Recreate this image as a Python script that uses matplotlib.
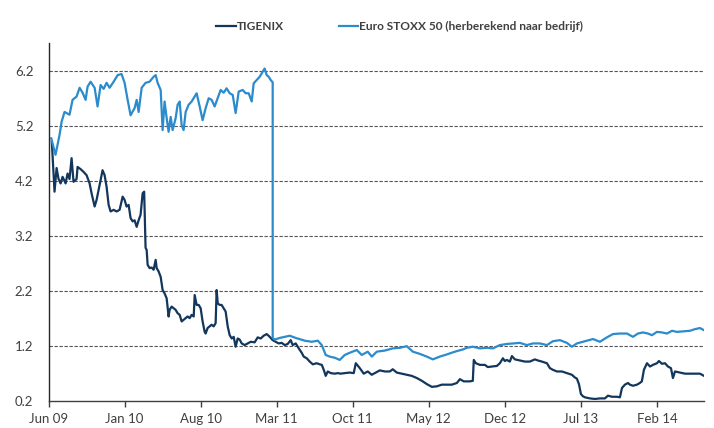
import numpy as np
import matplotlib
matplotlib.use("Agg")
import matplotlib.pyplot as plt

plt.rcParams['font.family'] = ['Lato', 'DejaVu Sans']

# time axis in months since June 2009
tig_months = [0.30, 0.55, 0.74, 0.92, 1.11, 1.29, 1.57, 1.75, 1.93, 2.12, 2.30, 2.58, 2.67, 2.95,
              3.22, 3.50, 3.78, 3.96, 4.24, 4.42, 4.61, 4.79, 4.97, 5.16, 5.34, 5.53, 5.71, 5.99,
              6.26, 6.54, 6.82, 7.00, 7.18, 7.37, 7.55, 7.74, 7.92, 8.11, 8.29, 8.47, 8.66, 8.80,
              8.93, 9.03, 9.12, 9.30, 9.49, 9.67, 9.86, 9.95, 10.13, 10.32, 10.50, 10.68, 10.87,
              11.05, 11.14, 11.33, 11.51, 11.70, 11.88, 12.07, 12.25, 12.43, 12.62, 12.80, 12.99,
              13.17, 13.36, 13.45, 13.63, 13.82, 14.00, 14.18, 14.37, 14.46, 14.64, 14.83, 15.01,
              15.20, 15.38, 15.47, 15.57, 15.75, 15.93, 16.12, 16.30, 16.49, 16.67, 16.86, 17.04,
              17.22, 17.41, 17.59, 17.78, 18.05, 18.33, 18.61, 18.97, 19.25, 19.53, 19.80, 20.08,
              20.36, 20.63, 20.91, 21.18, 21.46, 21.74, 22.01, 22.29, 22.47, 22.75, 23.03, 23.30,
              23.49, 23.76, 24.04, 24.32, 24.68, 24.96, 25.15, 25.33, 25.51, 25.70, 25.97, 26.34,
              26.62, 26.89, 27.26, 27.72, 28.09, 28.28, 28.65, 29.01, 29.38, 29.75, 30.12, 30.49,
              30.95, 31.41, 31.68, 32.05, 32.51, 32.97, 33.43, 33.90, 34.36, 34.82, 35.28, 35.74,
              36.20, 36.66, 37.12, 37.58, 37.86, 38.22, 38.78, 39.05, 39.14, 39.33, 39.70, 40.16,
              40.43, 40.80, 41.26, 41.54, 41.82, 42.00, 42.18, 42.46, 42.65, 42.92, 43.38, 43.84,
              44.30, 44.76, 45.04, 45.41, 45.87, 46.15, 46.42, 46.79, 47.25, 47.71, 48.17, 48.45,
              48.63, 48.82, 49.00, 49.18, 49.37, 49.83, 50.29, 50.75, 51.21, 51.49, 51.86, 52.32,
              52.59, 52.78, 53.05, 53.33, 53.51, 53.79, 54.16, 54.42, 54.61, 54.80, 55.08, 55.36,
              55.63, 56.00, 56.18, 56.46, 56.74, 57.01, 57.29, 57.47, 57.66, 58.12, 58.58, 59.04,
              59.50, 59.96, 60.33]
tig_values = [4.91, 4.00, 4.43, 4.23, 4.15, 4.27, 4.15, 4.33, 4.23, 4.61, 4.18, 4.23, 4.45, 4.41,
              4.36, 4.30, 4.15, 3.97, 3.73, 3.85, 4.03, 4.21, 4.39, 4.30, 4.09, 3.76, 3.64, 3.67,
              3.64, 3.67, 3.91, 3.85, 3.73, 3.76, 3.52, 3.46, 3.48, 3.36, 3.48, 3.58, 3.97, 4.00,
              2.98, 2.94, 2.67, 2.61, 2.62, 2.58, 2.76, 2.61, 2.55, 2.45, 2.21, 2.15, 2.06,
              1.73, 1.85, 1.91, 1.88, 1.85, 1.79, 1.76, 1.64, 1.67, 1.70, 1.73, 1.70,
              1.76, 1.73, 2.12, 1.94, 1.94, 1.88, 1.64, 1.45, 1.42, 1.52, 1.55, 1.58,
              1.55, 1.61, 2.21, 1.97, 1.94, 1.94, 1.88, 1.82, 1.55, 1.39, 1.33, 1.36,
              1.18, 1.33, 1.31, 1.24, 1.21, 1.24, 1.27, 1.26, 1.35, 1.33, 1.38, 1.41,
              1.36, 1.30, 1.27, 1.24, 1.25, 1.21, 1.23, 1.30, 1.21, 1.24, 1.15, 1.07,
              1.00, 0.97, 0.91, 0.86, 0.88, 0.86, 0.85, 0.76, 0.65, 0.73, 0.70, 0.69,
              0.70, 0.69, 0.70, 0.71, 0.70, 0.88, 0.79, 0.69, 0.73, 0.67, 0.71, 0.75,
              0.73, 0.73, 0.77, 0.71, 0.69, 0.67, 0.65, 0.61, 0.56, 0.50, 0.45, 0.46,
              0.49, 0.49, 0.49, 0.52, 0.59, 0.55, 0.55, 0.56, 0.94, 0.88, 0.85, 0.85,
              0.81, 0.82, 0.83, 0.88, 0.97, 0.92, 0.94, 0.91, 1.01, 0.95, 0.93, 0.91,
              0.91, 0.95, 0.93, 0.91, 0.88, 0.79, 0.76, 0.73, 0.73, 0.70, 0.67, 0.62,
              0.60, 0.50, 0.32, 0.28, 0.26, 0.24, 0.23, 0.24, 0.24, 0.29, 0.27, 0.27,
              0.26, 0.43, 0.49, 0.52, 0.49, 0.47, 0.49, 0.52, 0.55, 0.76, 0.88, 0.82,
              0.85, 0.88, 0.92, 0.87, 0.88, 0.82, 0.79, 0.61, 0.73, 0.71, 0.69, 0.69,
              0.69, 0.69, 0.65]

euro_months = [0.25, 0.64, 1.01, 1.20, 1.47, 1.93, 2.21, 2.58, 2.86, 3.13, 3.41, 3.59, 3.87, 4.24,
               4.51, 4.79, 5.07, 5.34, 5.62, 5.99, 6.36, 6.72, 7.00, 7.28, 7.55, 7.92, 8.11, 8.29,
               8.57, 8.93, 9.30, 9.67, 9.86, 10.04, 10.32, 10.50, 10.68, 10.87, 11.05, 11.24,
               11.42, 11.70, 11.88, 12.07, 12.25, 12.43, 12.62, 12.89, 13.17, 13.45, 13.63,
               13.91, 14.18, 14.46, 14.74, 15.01, 15.29, 15.57, 15.84, 16.12, 16.39, 16.67,
               16.95, 17.22, 17.50, 17.87, 18.14, 18.42, 18.70, 18.88, 19.16, 19.43, 19.71,
               19.89, 20.08, 20.26, 20.45, 20.63, 20.63, 20.81, 21.28, 21.74, 22.20, 22.75,
               23.58, 24.22, 24.78, 25.15, 25.51, 25.88, 26.34, 26.80, 27.26, 27.72, 28.37,
               28.83, 29.38, 29.75, 30.21, 30.95, 31.68, 32.33, 32.97, 33.53, 34.17, 34.82,
               35.37, 36.01, 36.66, 37.40, 38.13, 38.50, 39.05, 39.70, 40.34, 40.90, 41.54,
               42.18, 42.74, 43.38, 44.03, 44.58, 45.22, 45.87, 46.42, 47.07, 47.71, 48.17,
               48.63, 49.18, 49.55, 50.11, 50.75, 51.39, 51.95, 52.59, 53.24, 53.79, 54.25,
               54.71, 55.17, 55.54, 56.00, 56.46, 56.92, 57.38, 57.84, 58.40, 59.04, 59.50,
               59.96, 60.33]
euro_values = [4.97, 4.67, 5.03, 5.27, 5.45, 5.40, 5.67, 5.73, 5.89, 5.80, 5.67, 5.91, 6.00, 5.89,
               5.55, 5.94, 5.87, 5.98, 5.89, 6.00, 6.12, 6.14, 5.98, 5.67, 5.39, 5.52, 5.67, 5.45,
               5.89, 5.98, 6.00, 6.09, 6.12, 5.98, 5.85, 5.12, 5.64, 5.34, 5.09, 5.36,
               5.12, 5.34, 5.58, 5.64, 5.21, 5.12, 5.45, 5.58, 5.64, 5.73, 5.79,
               5.55, 5.30, 5.52, 5.70, 5.67, 5.55, 5.70, 5.85, 5.80, 5.88, 5.79,
               5.76, 5.43, 5.82, 5.85, 5.79, 5.79, 5.64, 5.97, 6.03, 6.09, 6.18,
               6.24, 6.12, 6.09, 6.03, 5.99, 1.34, 1.31, 1.34, 1.36, 1.38, 1.34,
               1.29, 1.27, 1.29, 1.21, 1.03, 1.00, 0.98, 0.94, 1.03, 1.07, 1.12,
               1.03, 1.09, 1.00, 1.09, 1.11, 1.15, 1.16, 1.19, 1.09, 1.05, 1.00,
               0.95, 1.00, 1.04, 1.09, 1.13, 1.16, 1.18, 1.15, 1.16, 1.15, 1.21,
               1.23, 1.24, 1.25, 1.21, 1.24, 1.24, 1.21, 1.28, 1.30, 1.25, 1.18,
               1.24, 1.27, 1.29, 1.32, 1.27, 1.35, 1.41, 1.42, 1.42, 1.36, 1.42,
               1.44, 1.42, 1.39, 1.45, 1.44, 1.42, 1.47, 1.45, 1.46, 1.47, 1.50,
               1.52, 1.48]

tick_months = [0, 7, 14, 21, 28, 35, 42, 49, 56]
tick_labels = ['Jun 09', 'Jan 10', 'Aug 10', 'Mar 11', 'Oct 11', 'May 12', 'Dec 12', 'Jul 13', 'Feb 14']
y_ticks = [0.2, 1.2, 2.2, 3.2, 4.2, 5.2, 6.2]

fig = plt.figure(figsize=(7.14, 4.28), dpi=100)
ax = fig.add_axes([0.068, 0.064, 0.918, 0.835])

ax.plot(tig_months, tig_values, color='#12365c', lw=1.6, label='TIGENIX')
ax.plot(euro_months, euro_values, color='#2b8bcc', lw=1.6, label='Euro STOXX 50 (herberekend naar bedrijf)')

ax.set_xlim(0, 60.33)
ax.set_ylim(0.2, 6.7)
ax.set_xticks(tick_months)
ax.set_xticklabels(tick_labels)
ax.set_yticks(y_ticks)
ax.set_yticklabels(['%.1f' % v for v in y_ticks])

for v in y_ticks[1:]:
    ax.axhline(v, color='#555555', lw=0.8, ls=(0, (3, 1.5)), zorder=0)

for s in ['top', 'right']:
    ax.spines[s].set_visible(False)
ax.spines['left'].set_color('#262626')
ax.spines['bottom'].set_color('#404040')
ax.spines['left'].set_linewidth(1.0)
ax.spines['bottom'].set_linewidth(1.0)

ax.tick_params(axis='x', length=4, width=1, color='#404040', direction='out',
               labelsize=9.5, labelcolor='#404040', pad=5)
ax.tick_params(axis='y', length=0, labelsize=9.5, labelcolor='#404040', pad=11)

leg = fig.legend(loc='center', bbox_to_anchor=(0.56, 0.937), ncol=2, frameon=False,
                 handlelength=1.6, handletextpad=0.1, columnspacing=4.6,
                 prop={'weight': 'bold', 'size': 8.6})
for t in leg.get_texts():
    t.set_color('#404040')

fig.savefig('out.png', dpi=100)
